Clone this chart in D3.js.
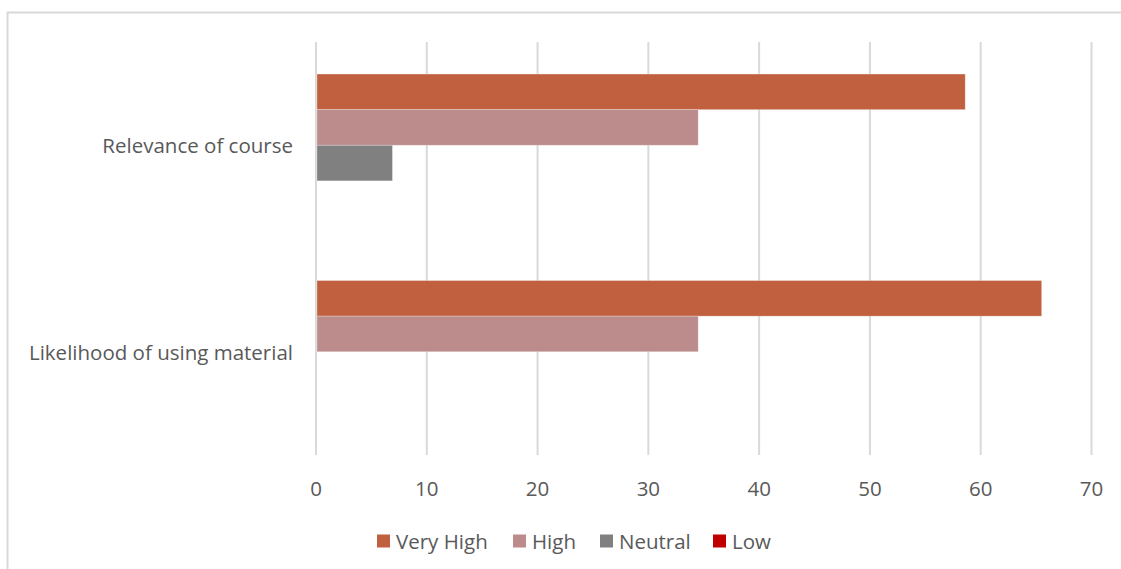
<!DOCTYPE html>
<html>
<head>
<meta charset="utf-8">
<script src="https://cdn.jsdelivr.net/npm/d3@7"></script>
<style>
  html, body { margin: 0; padding: 0; background: #fff; }
  svg text { font-family: "Open Sans", Lato, sans-serif; fill: #595959; }
</style>
</head>
<body>
<svg id="chart" width="1121" height="569"></svg>
<script>
// Survey ratings (% of respondents) per question
const categories = ["Relevance of course", "Likelihood of using material"];
const seriesNames = ["Very High", "High", "Neutral", "Low"];
const veryHigh = [58.6, 65.5];
const high = [34.5, 34.5];
const neutral = [6.9, 0];
const low = [0, 0];
const xTicks = [0, 10, 20, 30, 40, 50, 60, 70];
const colors = ["#C0603F", "#BC8C8C", "#808080", "#C00000"];

const seriesValues = [veryHigh, high, neutral, low];
const fontSize = "20.5px";

const svg = d3.select("#chart");

// Chart frame (top and left edges visible)
svg.append("line").attr("x1", 7).attr("x2", 1121).attr("y1", 12.5).attr("y2", 12.5)
  .attr("stroke", "#d9d9d9").attr("stroke-width", 2);
svg.append("line").attr("x1", 7.5).attr("x2", 7.5).attr("y1", 12).attr("y2", 569)
  .attr("stroke", "#d9d9d9").attr("stroke-width", 2);

const plot = { left: 316, right: 1091.5, top: 42, bottom: 455 };

const x = d3.scaleLinear().domain([0, 70]).range([plot.left, plot.right]);
const y = d3.scaleBand().domain(categories).range([plot.top, plot.bottom]).paddingInner(0).paddingOuter(0);
const ySeries = d3.scaleBand().domain(seriesNames)
  .range([0, y.bandwidth()]).paddingInner(0).paddingOuter(0.9);

// Vertical gridlines
svg.append("g").selectAll("line").data(xTicks).join("line")
  .attr("x1", d => x(d)).attr("x2", d => x(d))
  .attr("y1", plot.top).attr("y2", plot.bottom)
  .attr("stroke", "#d9d9d9").attr("stroke-width", 2);

// Bars
const groups = svg.append("g").selectAll("g").data(categories).join("g")
  .attr("transform", d => `translate(0,${y(d)})`);

groups.selectAll("rect")
  .data((c, ci) => seriesNames.map((s, si) => ({ s, si, v: seriesValues[si][ci] })))
  .join("rect")
  .attr("x", x(0) + 1)
  .attr("y", d => ySeries(d.s))
  .attr("width", d => Math.max(0, x(d.v) - x(0) - (d.v > 0 ? 1 : 0)))
  .attr("height", ySeries.bandwidth())
  .attr("fill", d => colors[d.si])
  .attr("stroke", d => d.v > 0 ? "rgba(255,255,255,0.35)" : "none")
  .attr("stroke-width", 0.75);

// Category labels
svg.append("g").selectAll("text").data(categories).join("text")
  .attr("x", 293)
  .attr("y", d => y(d) + y.bandwidth() / 2)
  .attr("text-anchor", "end")
  .attr("dominant-baseline", "central")
  .attr("font-size", fontSize)
  .text(d => d);

// X tick labels
svg.append("g").selectAll("text").data(xTicks).join("text")
  .attr("x", d => x(d))
  .attr("y", 488)
  .attr("text-anchor", "middle")
  .attr("dominant-baseline", "central")
  .attr("font-size", fontSize)
  .text(d => d);

// Legend
const legendX = [377, 513, 600, 713];
const legend = svg.append("g").selectAll("g").data(seriesNames).join("g")
  .attr("transform", (d, i) => `translate(${legendX[i]},541)`);
legend.append("rect").attr("x", 0).attr("y", -6.5).attr("width", 13).attr("height", 13)
  .attr("fill", (d, i) => colors[i]);
legend.append("text").attr("x", 19).attr("y", 0)
  .attr("dominant-baseline", "central")
  .attr("font-size", fontSize)
  .text(d => d);
</script>
</body>
</html>
